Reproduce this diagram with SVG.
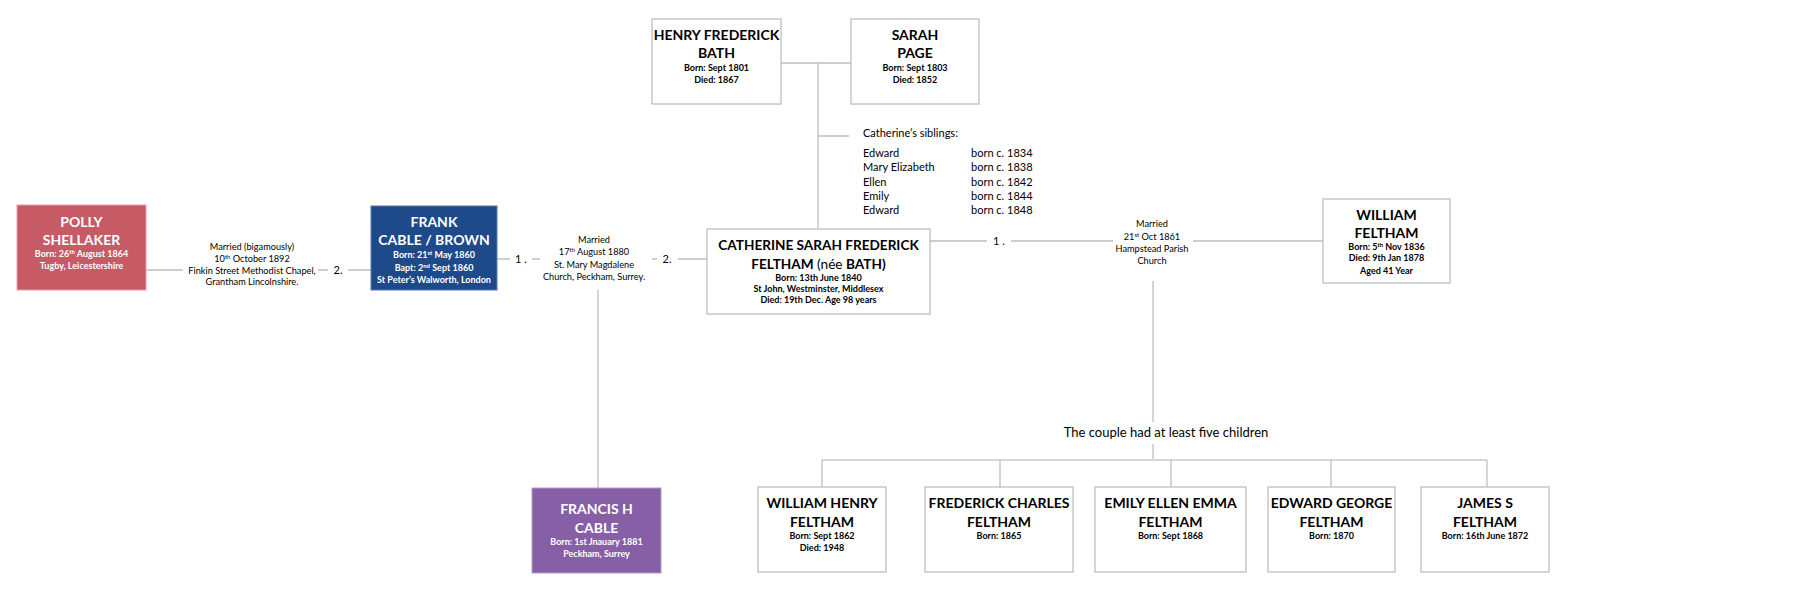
<svg xmlns="http://www.w3.org/2000/svg" width="1813" height="595" viewBox="0 0 1813 595">
<style>
text{font-family:Lato,"Liberation Sans",sans-serif;text-anchor:middle;fill:#000}
.nm{font-size:14px;font-weight:bold}
.dt{font-size:9px;font-weight:bold}
.w text{fill:#fff}
.mt{font-size:9.2px}
.num{font-size:11px}
.sib{font-size:11px;text-anchor:start}
.box{fill:#fff;stroke:#BFBFBF;stroke-width:1.3}
.ln{stroke:#BFBFBF;stroke-width:1.3;fill:none}
.sup{font-size:6px}
</style>
<rect width="1813" height="595" fill="#fff"/>
<g id="connectors">
<path class="ln" d="M146 270H183M318 270H328M348 270H371"/>
<path class="ln" d="M497 259H510M532 259H540M652 259H657M678 259H707"/>
<path class="ln" d="M598 290V488"/>
<path class="ln" d="M781 63H851M818 63V229M818 136H849"/>
<path class="ln" d="M930 241H987M1011 241H1113M1193 241H1323"/>
<path class="ln" d="M1153 281V422M1153 444V460"/>
<path d="M822 460H1487" stroke="#D6D6D6" stroke-width="2" fill="none"/>
<path class="ln" d="M822 460V487M1000 460V487M1171 460V487M1331 460V487M1487 460V487"/>
</g>
<g id="labels">
<g class="mt">
<text x="252" y="250">Married (bigamously)</text>
<text x="252" y="262">10<tspan class="sup" dy="-3">th</tspan><tspan dy="3"> October 1892</tspan></text>
<text x="252" y="274">Finkin Street Methodist Chapel,</text>
<text x="252" y="285">Grantham Lincolnshire.</text>
<text x="594" y="243">Married</text>
<text x="594" y="255">17<tspan class="sup" dy="-3">th</tspan><tspan dy="3"> August 1880</tspan></text>
<text x="594" y="268">St. Mary Magdalene</text>
<text x="594" y="280">Church, Peckham, Surrey.</text>
<text x="1152" y="227">Married</text>
<text x="1152" y="240">21<tspan class="sup" dy="-3">st</tspan><tspan dy="3"> Oct 1861</tspan></text>
<text x="1152" y="252">Hampstead Parish</text>
<text x="1152" y="264">Church</text>
</g>
<text class="num" x="338" y="274">2.</text>
<text class="num" x="521" y="263">1 .</text>
<text class="num" x="667" y="263">2.</text>
<text class="num" x="999" y="245">1 .</text>
<text x="1166" y="437" style="font-size:13px">The couple had at least five children</text>
<text class="sib" x="863" y="137">Catherine’s siblings:</text>
<g class="sib">
<text class="sib" x="863" y="157">Edward</text>
<text class="sib" x="863" y="171">Mary Elizabeth</text>
<text class="sib" x="863" y="186">Ellen</text>
<text class="sib" x="863" y="200">Emily</text>
<text class="sib" x="863" y="214">Edward</text>
<text class="sib" x="971" y="157">born c. 1834</text>
<text class="sib" x="971" y="171">born c. 1838</text>
<text class="sib" x="971" y="186">born c. 1842</text>
<text class="sib" x="971" y="200">born c. 1844</text>
<text class="sib" x="971" y="214">born c. 1848</text>
</g>
</g>
<g id="polly" class="w">
<rect x="17" y="205" width="129" height="85" fill="#C65B66" stroke="#E3A0A6" stroke-width="1"/>
<text class="nm" x="81.5" y="227">POLLY</text>
<text class="nm" x="81.5" y="245">SHELLAKER</text>
<text class="dt" x="81.5" y="257">Born: 26<tspan class="sup" dy="-3">th</tspan><tspan dy="3"> August 1864</tspan></text>
<text class="dt" x="81.5" y="269">Tugby, Leicestershire</text>
</g>
<g id="frank" class="w">
<rect x="371" y="206" width="126" height="84" fill="#1E4A8A" stroke="#5A7BB0" stroke-width="1"/>
<text class="nm" x="434" y="227">FRANK</text>
<text class="nm" x="434" y="245">CABLE / BROWN</text>
<text class="dt" x="434" y="258">Born: 21<tspan class="sup" dy="-3">st</tspan><tspan dy="3"> May 1860</tspan></text>
<text class="dt" x="434" y="271">Bapt:  2<tspan class="sup" dy="-3">nd</tspan><tspan dy="3"> Sept 1860</tspan></text>
<text class="dt" x="434" y="283">St Peter’s Walworth, London</text>
</g>
<g id="francis" class="w">
<rect x="532" y="488" width="129" height="85" fill="#875FA6" stroke="#B59BCB" stroke-width="1"/>
<text class="nm" x="596.5" y="514">FRANCIS H</text>
<text class="nm" x="596.5" y="533">CABLE</text>
<text class="dt" x="596.5" y="545">Born: 1st Jnauary 1881</text>
<text class="dt" x="596.5" y="557">Peckham, Surrey</text>
</g>
<g id="henry">
<rect class="box" x="652" y="19" width="129" height="85"/>
<text class="nm" x="716.5" y="40">HENRY FREDERICK</text>
<text class="nm" x="716.5" y="58">BATH</text>
<text class="dt" x="716.5" y="71">Born: Sept 1801</text>
<text class="dt" x="716.5" y="83">Died: 1867</text>
</g>
<g id="sarah">
<rect class="box" x="851" y="19" width="128" height="85"/>
<text class="nm" x="915" y="40">SARAH</text>
<text class="nm" x="915" y="58">PAGE</text>
<text class="dt" x="915" y="71">Born: Sept 1803</text>
<text class="dt" x="915" y="83">Died: 1852</text>
</g>
<g id="catherine">
<rect class="box" x="707" y="229" width="223" height="85"/>
<text class="nm" x="818.5" y="250" style="font-size:13.6px">CATHERINE SARAH FREDERICK</text>
<text class="nm" x="818.5" y="269" style="font-size:13.6px">FELTHAM<tspan font-weight="normal"> (née </tspan>BATH)</text>
<text class="dt" x="818.5" y="281">Born: 13th June 1840</text>
<text class="dt" x="818.5" y="292">St John, Westminster, Middlesex</text>
<text class="dt" x="818.5" y="303">Died: 19th Dec. Age 98 years</text>
</g>
<g id="william">
<rect class="box" x="1323" y="199" width="127" height="84"/>
<text class="nm" x="1386.5" y="220">WILLIAM</text>
<text class="nm" x="1386.5" y="238">FELTHAM</text>
<text class="dt" x="1386.5" y="250">Born: 5<tspan class="sup" dy="-3">th</tspan><tspan dy="3"> Nov 1836</tspan></text>
<text class="dt" x="1386.5" y="261">Died: 9th Jan 1878</text>
<text class="dt" x="1386.5" y="274">Aged 41 Year</text>
</g>
<g id="william-henry">
<rect class="box" x="758" y="487" width="128" height="85"/>
<text class="nm" x="822" y="508">WILLIAM HENRY</text>
<text class="nm" x="822" y="527">FELTHAM</text>
<text class="dt" x="822" y="539">Born: Sept 1862</text>
<text class="dt" x="822" y="551">Died: 1948</text>
</g>
<g id="frederick">
<rect class="box" x="925" y="487" width="148" height="85"/>
<text class="nm" x="999" y="508">FREDERICK CHARLES</text>
<text class="nm" x="999" y="527">FELTHAM</text>
<text class="dt" x="999" y="539">Born: 1865</text>
</g>
<g id="emily">
<rect class="box" x="1095" y="487" width="151" height="85"/>
<text class="nm" x="1170.5" y="508">EMILY ELLEN EMMA</text>
<text class="nm" x="1170.5" y="527">FELTHAM</text>
<text class="dt" x="1170.5" y="539">Born: Sept 1868</text>
</g>
<g id="edward">
<rect class="box" x="1268" y="487" width="127" height="85"/>
<text class="nm" x="1331.5" y="508">EDWARD GEORGE</text>
<text class="nm" x="1331.5" y="527">FELTHAM</text>
<text class="dt" x="1331.5" y="539">Born: 1870</text>
</g>
<g id="james">
<rect class="box" x="1421" y="487" width="128" height="85"/>
<text class="nm" x="1485" y="508">JAMES S</text>
<text class="nm" x="1485" y="527">FELTHAM</text>
<text class="dt" x="1485" y="539">Born: 16th June 1872</text>
</g>
</svg>
